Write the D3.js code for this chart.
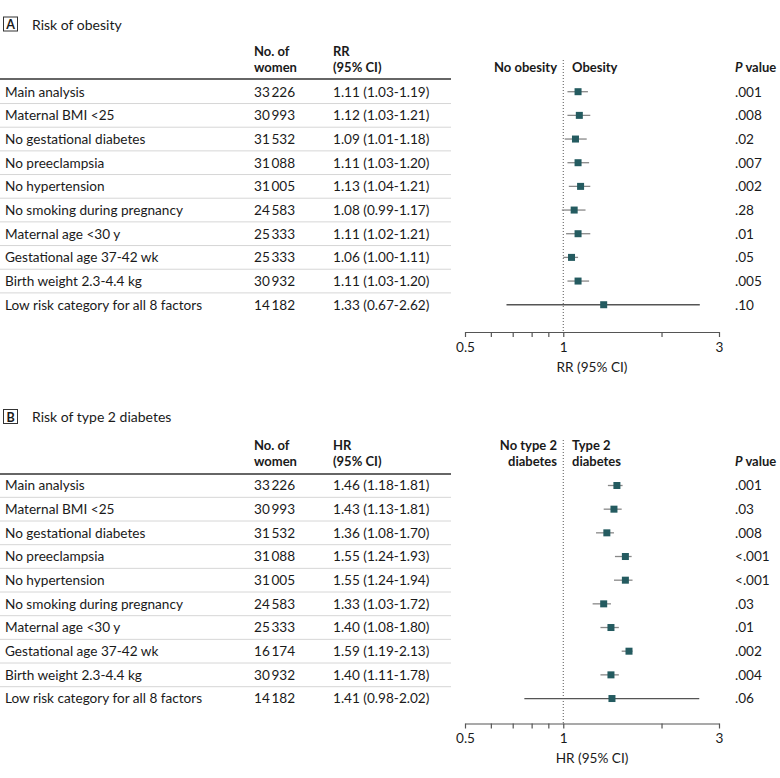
<!DOCTYPE html>
<html><head><meta charset="utf-8">
<script src="https://cdn.jsdelivr.net/npm/d3@7"></script>
<style>
body{margin:0;background:#fff;}
svg text{font-family:Lato,"Liberation Sans",Roboto,sans-serif;fill:#1a1a1a;}
</style></head>
<body><svg id="c" width="780" height="778"></svg>
<script>
// ---------- data ----------
const rowLabels = ["Main analysis","Maternal BMI <25","No gestational diabetes","No preeclampsia","No hypertension","No smoking during pregnancy","Maternal age <30 y","Gestational age 37-42 wk","Birth weight 2.3-4.4 kg","Low risk category for all 8 factors"];

// Panel A: risk of obesity
const womenA = ["33\u2009226","30\u2009993","31\u2009532","31\u2009088","31\u2009005","24\u2009583","25\u2009333","25\u2009333","30\u2009932","14\u2009182"];
const ciTextA = ["1.11 (1.03-1.19)","1.12 (1.03-1.21)","1.09 (1.01-1.18)","1.11 (1.03-1.20)","1.13 (1.04-1.21)","1.08 (0.99-1.17)","1.11 (1.02-1.21)","1.06 (1.00-1.11)","1.11 (1.03-1.20)","1.33 (0.67-2.62)"];
const estA = [1.11,1.12,1.09,1.11,1.13,1.08,1.11,1.06,1.11,1.33];
const loA  = [1.03,1.03,1.01,1.03,1.04,0.99,1.02,1.00,1.03,0.67];
const hiA  = [1.19,1.21,1.18,1.20,1.21,1.17,1.21,1.11,1.20,2.62];
const pA   = [".001",".008",".02",".007",".002",".28",".01",".05",".005",".10"];

// Panel B: risk of type 2 diabetes (whiskers as drawn in the figure)
const womenB = ["33\u2009226","30\u2009993","31\u2009532","31\u2009088","31\u2009005","24\u2009583","25\u2009333","16\u2009174","30\u2009932","14\u2009182"];
const ciTextB = ["1.46 (1.18-1.81)","1.43 (1.13-1.81)","1.36 (1.08-1.70)","1.55 (1.24-1.93)","1.55 (1.24-1.94)","1.33 (1.03-1.72)","1.40 (1.08-1.80)","1.59 (1.19-2.13)","1.40 (1.11-1.78)","1.41 (0.98-2.02)"];
const estB = [1.46,1.43,1.36,1.55,1.55,1.33,1.40,1.59,1.40,1.41];
const loB  = [1.37,1.33,1.26,1.44,1.43,1.23,1.30,1.51,1.30,0.76];
const hiB  = [1.52,1.51,1.43,1.62,1.63,1.40,1.48,1.63,1.48,2.61];
const pB   = [".001",".03",".008","<.001","<.001",".03",".01",".002",".004",".06"];

const axisTicks = [0.5,0.6,0.7,0.8,0.9,1,2,3];
const axisTickLabels = {0.5:"0.5",1:"1",3:"3"};

// ---------- drawing ----------
const svg = d3.select("#c");
const x = d3.scaleLog().domain([0.5,3]).range([465,719]);
const FS = 13.6;
const HFS = 13;

function panel(cfg){
  const g = svg.append("g");
  // letter box + title
  g.append("rect").attr("x",3.5).attr("y",cfg.top-7.5).attr("width",14).attr("height",14)
    .attr("fill","none").attr("stroke","#333").attr("stroke-width",1);
  g.append("text").attr("x",10.5).attr("y",cfg.top).attr("dy","0.36em").attr("text-anchor","middle")
    .attr("font-weight","bold").attr("font-size",12.5).text(cfg.letter);
  g.append("text").attr("x",32).attr("y",cfg.top).attr("dy","0.36em").attr("font-size",14).text(cfg.title);

  // column headers
  const h1 = cfg.h1, h2 = cfg.h2;
  const hdr = (xx,yy,t,anchor)=> g.append("text").attr("x",xx).attr("y",yy).attr("dy","0.36em")
      .attr("font-size",HFS).attr("font-weight","bold").attr("text-anchor",anchor||"start").text(t);
  hdr(254,h1,"No. of"); hdr(254,h2,"women");
  hdr(333,h1,cfg.measure); hdr(333,h2,"(95% CI)");
  cfg.leftHdr.forEach((t,i)=> hdr(557, cfg.leftHdr.length===1?h2:(i?h2:h1), t, "end"));
  cfg.rightHdr.forEach((t,i)=> hdr(572, cfg.rightHdr.length===1?h2:(i?h2:h1), t));
  const pv = g.append("text").attr("x",735).attr("y",h2).attr("dy","0.36em").attr("font-size",HFS).attr("font-weight","bold");
  pv.append("tspan").attr("font-style","italic").text("P");
  pv.append("tspan").text(" value");

  g.append("line").attr("x1",0).attr("x2",451).attr("y1",cfg.rule).attr("y2",cfg.rule)
    .attr("stroke","#333").attr("stroke-width",1.5);

  const y = d3.scalePoint().domain(d3.range(rowLabels.length)).range([cfg.row0, cfg.row0 + 9*23.67]);
  const step = y.step();
  // separators
  g.selectAll("line.sep").data(d3.range(rowLabels.length-1)).join("line")
    .attr("x1",0).attr("x2",451).attr("y1",i=>y(i)+step/2).attr("y2",i=>y(i)+step/2)
    .attr("stroke","#d6d6d6").attr("stroke-width",1);

  const col = (xx, arr, anchor)=> g.selectAll(null).data(arr).join("text")
      .attr("x",xx).attr("y",(d,i)=>y(i)).attr("dy","0.36em").attr("font-size",FS)
      .attr("text-anchor",anchor||"start").text(d=>d);
  col(5,rowLabels); col(254,cfg.women); col(333,cfg.ciText); col(735,cfg.p);

  // reference line
  g.append("line").attr("x1",x(1)).attr("x2",x(1)).attr("y1",cfg.refTop).attr("y2",cfg.axisY)
    .attr("stroke","#555").attr("stroke-width",1).attr("stroke-dasharray","1,2");

  // whiskers and markers
  g.selectAll(null).data(cfg.est).join("line")
    .attr("x1",(d,i)=>x(cfg.lo[i])).attr("x2",(d,i)=>x(cfg.hi[i]))
    .attr("y1",(d,i)=>y(i)).attr("y2",(d,i)=>y(i))
    .attr("stroke",(d,i)=> i===rowLabels.length-1 ? "#555" : "#888").attr("stroke-width",1.3);
  g.selectAll(null).data(cfg.est).join("rect")
    .attr("x",d=>x(d)-3.5).attr("y",(d,i)=>y(i)-3.5).attr("width",7).attr("height",7)
    .attr("fill","#245b60");

  // axis
  const ax = g.append("g").attr("transform",`translate(0,${cfg.axisY})`)
    .call(d3.axisBottom(x).tickValues(axisTicks).tickSize(5).tickSizeOuter(0)
      .tickFormat(d=>axisTickLabels[d]||""));
  ax.select(".domain").attr("stroke","#555").attr("stroke-width",1.2);
  ax.selectAll(".tick line").attr("stroke","#555").attr("stroke-width",1.2);
  ax.selectAll(".tick text").attr("font-size",FS).attr("fill","#1a1a1a")
    .attr("font-family","Lato, 'Liberation Sans', sans-serif").attr("y",10);
  g.append("text").attr("x",592).attr("y",cfg.axisY+35).attr("dy","0.36em").attr("text-anchor","middle")
    .attr("font-size",FS).text(cfg.measure+" (95% CI)");
}

panel({letter:"A", title:"Risk of obesity", top:24.5, h1:51, h2:67, rule:79, row0:91.7, refTop:60, axisY:332,
  measure:"RR", leftHdr:["No obesity"], rightHdr:["Obesity"],
  women:womenA, ciText:ciTextA, est:estA, lo:loA, hi:hiA, p:pA});
panel({letter:"B", title:"Risk of type 2 diabetes", top:417, h1:445, h2:461, rule:474, row0:485.5, refTop:440, axisY:723.5,
  measure:"HR", leftHdr:["No type 2","diabetes"], rightHdr:["Type 2","diabetes"],
  women:womenB, ciText:ciTextB, est:estB, lo:loB, hi:hiB, p:pB});
</script></body></html>
